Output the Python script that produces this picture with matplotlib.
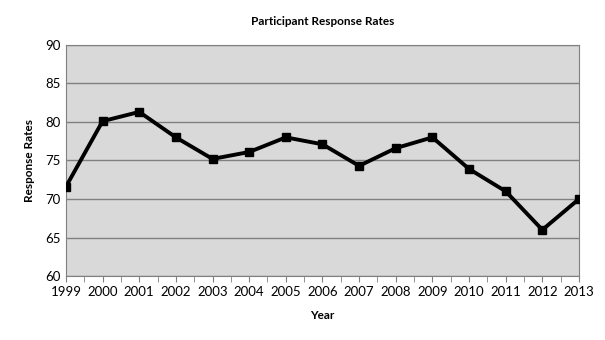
import matplotlib.pyplot as plt
import numpy as np

years = [1999, 2000, 2001, 2002, 2003, 2004, 2005, 2006, 2007,
         2008, 2009, 2010, 2011, 2012, 2013]
rates = [71.6, 80.1, 81.3, 78.0, 75.2, 76.1, 78.0, 77.1, 74.3,
         76.6, 78.0, 73.9, 71.0, 66.0, 70.0]

plt.rcParams['font.family'] = ['Lato', 'DejaVu Sans']

fig = plt.figure(figsize=(6.05, 3.4), dpi=100)
ax = fig.add_axes([0.109, 0.188, 0.848, 0.68])
ax.set_facecolor('#d9d9d9')

ax.plot(years, rates, color='black', lw=2.8, marker='s', markersize=6, zorder=3)

ax.set_xlim(years[0], years[-1])
ax.set_ylim(60, 90)
ax.set_yticks(np.arange(60, 91, 5))
ax.set_xticks(years)
ax.set_xticks(np.arange(1999.5, 2013, 1), minor=True)
ax.grid(axis='y', color='#808080', lw=1)
ax.set_axisbelow(True)

for s in ax.spines.values():
    s.set_color('#808080')
ax.tick_params(axis='x', which='both', length=4, color='#808080', labelsize=9.5, pad=3)
ax.tick_params(axis='y', length=0, labelsize=9.5, pad=4)

ax.set_title('Participant Response Rates', fontsize=8.5, fontweight='bold', pad=14)
ax.set_xlabel('Year', fontsize=8.5, fontweight='bold', labelpad=9)
ax.set_ylabel('Response Rates', fontsize=8.5, fontweight='bold', labelpad=7)

fig.savefig('out.png', dpi=100, facecolor='white')
